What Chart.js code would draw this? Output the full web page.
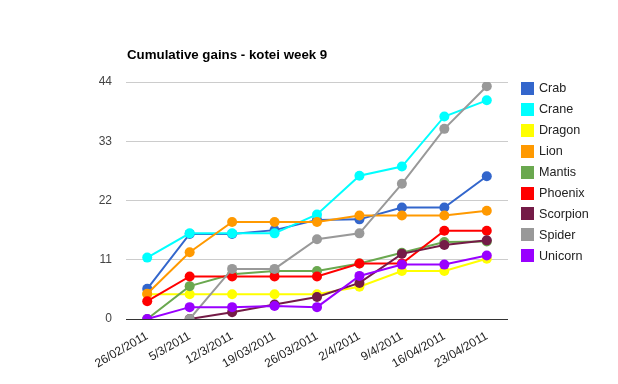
<!DOCTYPE html>
<html><head><meta charset="utf-8">
<script src="https://cdn.jsdelivr.net/npm/chart.js@4.4.0/dist/chart.umd.min.js"></script>
<style>html,body{margin:0;padding:0;background:#fff;}</style>
</head><body>
<canvas id="c" width="618" height="384"></canvas>
<script>
const chartTitle = "Cumulative gains - kotei week 9";
const categories = ["26/02/2011","5/3/2011","12/3/2011","19/03/2011","26/03/2011","2/4/2011","9/4/2011","16/04/2011","23/04/2011"];
const yTicks = [0, 11, 22, 33, 44];
const seriesNames = ["Crab","Crane","Dragon","Lion","Mantis","Phoenix","Scorpion","Spider","Unicorn"];
const seriesColors = ["#3366cc","#00ffff","#ffff00","#ff9900","#6aa84f","#ff0000","#741b47","#999999","#9900ff"];
const crab     = [5.6, 15.8, 15.8, 16.5, 18.4, 18.5, 20.7, 20.7, 26.5];
const crane    = [11.4, 15.9, 15.9, 15.9, 19.4, 26.6, 28.3, 37.6, 40.6];
const dragon   = [4.6, 4.6, 4.6, 4.6, 4.6, 6.0, 8.9, 8.9, 11.2];
const lion     = [4.7, 12.4, 18.0, 18.0, 18.0, 19.2, 19.2, 19.2, 20.1];
const mantis   = [0, 6.1, 8.3, 8.9, 8.9, 10.3, 12.3, 14.3, 14.4];
const phoenix  = [3.3, 7.9, 7.9, 7.9, 7.9, 10.3, 10.3, 16.4, 16.4];
const scorpion = [null, 0, 1.25, 2.7, 4.1, 6.7, 12.1, 13.75, 14.6];
const spider   = [null, 0, 9.3, 9.3, 14.8, 15.9, 25.1, 35.3, 43.2];
const unicorn  = [0, 2.2, 2.2, 2.4, 2.2, 8.0, 10.1, 10.1, 11.8];
const seriesValues = [crab, crane, dragon, lion, mantis, phoenix, scorpion, spider, unicorn];

const FONT = "'Liberation Sans', Arial, sans-serif";

const datasets = seriesNames.map((name, i) => ({
  label: name,
  data: seriesValues[i],
  borderColor: seriesColors[i],
  backgroundColor: seriesColors[i],
  pointBackgroundColor: seriesColors[i],
  pointBorderWidth: 0,
  pointRadius: 5,
  borderWidth: 2,
  tension: 0,
  fill: false,
  order: seriesNames.length - i
}));

const decor = {
  id: 'decor',
  afterDraw(chart) {
    const ctx = chart.ctx;
    ctx.save();
    ctx.fillStyle = '#000';
    ctx.font = "bold 13.3px " + FONT;
    ctx.textAlign = 'left';
    ctx.textBaseline = 'alphabetic';
    ctx.fillText(chartTitle, 127, 59);
    ctx.font = "12.6px " + FONT;
    ctx.textBaseline = 'middle';
    chart.data.datasets.forEach((ds, i) => {
      const cy = 88.5 + i * 20.9;
      ctx.fillStyle = ds.borderColor;
      ctx.fillRect(521, Math.round(cy - 6.5), 13, 13);
      ctx.fillStyle = '#222';
      ctx.fillText(ds.label, 539, cy + 0.5);
    });
    ctx.restore();
  }
};

new Chart(document.getElementById('c'), {
  type: 'line',
  data: { labels: categories, datasets },
  plugins: [decor],
  options: {
    responsive: false,
    animation: false,
    layout: { padding: { left: 86, right: 110, top: 82, bottom: 6 } },
    plugins: { legend: { display: false }, tooltip: { enabled: false }, title: { display: false } },
    scales: {
      x: {
        offset: true,
        grid: { display: false, drawTicks: false },
        border: { display: false },
        ticks: { minRotation: 30, maxRotation: 30, autoSkip: false, color: '#222', font: { family: FONT, size: 12 }, padding: 10 },
        afterFit(s) { s.height = 59; }
      },
      y: {
        min: 0, max: 44,
        afterBuildTicks(s) { s.ticks = yTicks.map(v => ({ value: v })); },
        grid: {
          drawTicks: false,
          color: c => (c.tick && c.tick.value === 0) ? '#333' : '#cccccc',
          lineWidth: 1
        },
        border: { display: false },
        ticks: { color: '#444', font: { family: FONT, size: 12 }, padding: 14 },
        afterFit(s) { s.width = 40; }
      }
    }
  }
});
</script>
</body></html>
